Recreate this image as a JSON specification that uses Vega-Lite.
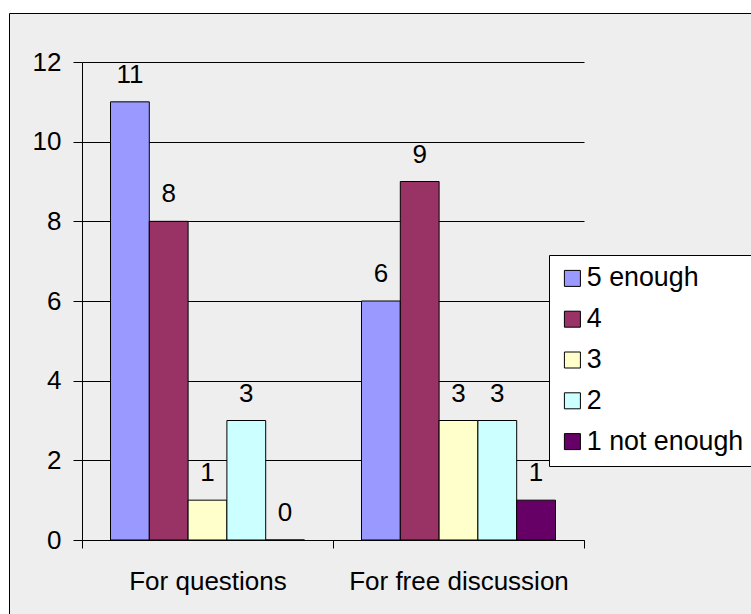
{
  "$schema": "https://vega.github.io/schema/vega-lite/v6.json",
  "autosize": {"type": "none"},
  "padding": {"left": 9, "top": 13, "right": -4, "bottom": -4},
  "width": 746,
  "height": 605,
  "background": "#FFFFFF",
  "config": {
    "font": "Liberation Sans",
    "view": {"fill": "#EEEEEE", "stroke": "#000000", "strokeWidth": 1}
  },
  "data": {
    "values": [
      {"category": "For questions", "series": "5 enough", "value": 11},
      {"category": "For questions", "series": "4", "value": 8},
      {"category": "For questions", "series": "3", "value": 1},
      {"category": "For questions", "series": "2", "value": 3},
      {"category": "For questions", "series": "1 not enough", "value": 0},
      {"category": "For free discussion", "series": "5 enough", "value": 6},
      {"category": "For free discussion", "series": "4", "value": 9},
      {"category": "For free discussion", "series": "3", "value": 3},
      {"category": "For free discussion", "series": "2", "value": 3},
      {"category": "For free discussion", "series": "1 not enough", "value": 1}
    ]
  },
  "encoding": {
    "x": {
      "field": "category",
      "type": "nominal",
      "sort": ["For questions", "For free discussion"],
      "scale": {"range": [73, 575], "paddingInner": 0, "paddingOuter": 0},
      "axis": {
        "title": null,
        "orient": "bottom",
        "offset": -78,
        "labelAngle": 0,
        "labelFontSize": 26,
        "labelColor": "#000000",
        "labelPadding": 20,
        "labelBaseline": "top",
        "labelLimit": 400,
        "tickBand": "extent",
        "tickSize": 8,
        "tickColor": "#000000",
        "domainColor": "#000000",
        "grid": false
      }
    },
    "xOffset": {
      "field": "series",
      "type": "nominal",
      "scale": {
        "domain": ["5 enough", "4", "3", "2", "1 not enough"],
        "paddingInner": 0,
        "paddingOuter": 0.735
      }
    },
    "y": {
      "field": "value",
      "type": "quantitative",
      "scale": {"domain": [0, 12], "range": [527, 49], "nice": false, "zero": true},
      "axis": {
        "title": null,
        "offset": -73,
        "values": [0, 2, 4, 6, 8, 10, 12],
        "labelFontSize": 26,
        "labelColor": "#000000",
        "labelPadding": 12,
        "tickSize": 9,
        "tickColor": "#000000",
        "domainColor": "#000000",
        "grid": true,
        "gridColor": "#000000",
        "gridOpacity": 1
      }
    }
  },
  "layer": [
    {
      "mark": {"type": "bar", "stroke": "#000000", "strokeWidth": 1},
      "encoding": {
        "color": {
          "field": "series",
          "type": "nominal",
          "scale": {
            "domain": ["5 enough", "4", "3", "2", "1 not enough"],
            "range": ["#9999FF", "#993366", "#FFFFCC", "#CCFFFF", "#660066"]
          },
          "legend": {
            "title": null,
            "orient": "none",
            "legendX": 540,
            "legendY": 242,
            "fillColor": "#FFFFFF",
            "strokeColor": "#000000",
            "padding": 10,
            "symbolType": "square",
            "symbolSize": 256,
            "symbolStrokeColor": "#000000",
            "symbolStrokeWidth": 1,
            "symbolOpacity": 1,
            "labelFontSize": 26.8,
            "labelColor": "#000000",
            "labelOffset": 1,
            "rowPadding": 12.8,
            "labelLimit": 400
          }
        }
      }
    },
    {
      "mark": {"type": "text", "fontSize": 26, "color": "#000000", "baseline": "alphabetic", "dy": -19},
      "encoding": {
        "text": {"field": "value", "type": "quantitative"}
      }
    }
  ]
}
